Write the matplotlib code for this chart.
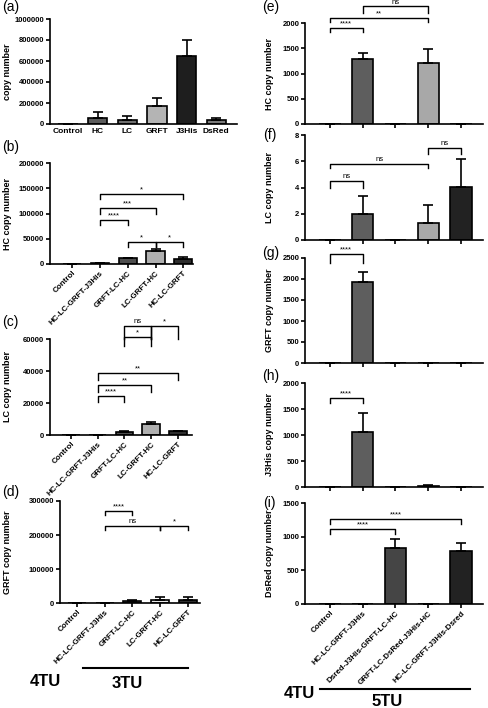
import matplotlib
matplotlib.use("Agg")
import matplotlib.pyplot as plt
from matplotlib.ticker import FuncFormatter

plt.rcParams["font.family"] = ["Liberation Sans", "DejaVu Sans"]
plt.rcParams["axes.linewidth"] = 1.2

W, H = 488, 708

# ---- data ----
a_cats = ["Control", "HC", "LC", "GRFT", "J3His", "DsRed"]
a_vals = [0, 60000, 35000, 175000, 645000, 40000]
a_err = [0, 55000, 40000, 70000, 155000, 18000]
a_cols = ["#ffffff", "#5c5c5c", "#6e6e6e", "#b4b4b4", "#1e1e1e", "#7a7a7a"]

tu3_cats = ["Control", "HC-LC-GRFT-J3His", "GRFT-LC-HC", "LC-GRFT-HC", "HC-LC-GRFT"]
tu3_cols = ["#ffffff", "#8a8a8a", "#4e4e4e", "#b0b0b0", "#2e2e2e"]
b_vals = [0, 1000, 11000, 25000, 10000]
b_err = [0, 300, 1500, 4000, 3000]
c_vals = [0, 0, 2000, 7000, 2200]
c_err = [0, 0, 500, 1200, 600]
d_vals = [0, 1000, 5000, 8000, 8000]
d_err = [0, 300, 3000, 10000, 9000]

tu5_cats = ["Control", "HC-LC-GRFT-J3His", "Dsred-J3His-GRFT-LC-HC",
            "GRFT-LC-DsRed-J3His-HC", "HC-LC-GRFT-J3His-Dsred"]
tu5_cols = ["#ffffff", "#5e5e5e", "#454545", "#a8a8a8", "#222222"]
e_vals = [5, 1280, 0, 1200, 0]
e_err = [0, 120, 0, 290, 0]
f_vals = [0, 2.0, 0, 1.3, 4.05]
f_err = [0, 1.35, 0, 1.35, 2.1]
g_vals = [0, 1920, 0, 0, 0]
g_err = [0, 240, 0, 0, 0]
h_vals = [0, 1050, 0, 20, 0]
h_err = [0, 380, 0, 10, 0]
i_vals = [0, 0, 830, 0, 780]
i_err = [0, 0, 140, 0, 130]

# significance brackets: (from, to, top, leg end, label)
b_sig = [(1, 4, 138000, 128000, "*"), (1, 3, 110000, 100000, "***"),
         (1, 2, 87000, 77000, "****"), (2, 3, 43500, 33000, "*"), (3, 4, 43500, 33000, "*")]
c_sig = [(2, 3, 68000, 60000, "ns"), (3, 4, 68000, 60000, "*"), (2, 3, 61000, 55500, "*"),
         (1, 4, 38750, 34400, "**"), (1, 3, 31250, 27000, "**"), (1, 2, 24400, 20600, "****")]
d_sig = [(1, 2, 270000, 259000, "****"), (1, 3, 226000, 214000, "ns"), (3, 4, 226000, 214000, "*")]
e_sig = [(0, 1, 1900, 1820, "****"), (0, 3, 2100, 2020, "**"), (1, 3, 2330, 2200, "ns")]
f_sig = [(3, 4, 7.0, 6.55, "ns"), (0, 3, 5.78, 5.45, "ns"), (0, 1, 4.5, 3.95, "ns")]
g_sig = [(0, 1, 2600, 2380, "****")]
h_sig = [(0, 1, 1711, 1615, "****")]
i_sig = [(0, 4, 1265, 1190, "****"), (0, 2, 1116, 1040, "****")]

fig = plt.figure(figsize=(W / 100, H / 100), dpi=100)


def px_axes(l, r, t, b):
    return fig.add_axes([l / W, 1 - b / H, (r - l) / W, (b - t) / H])


def panel(ax, vals, err, cols, ymax, ystep, ylabel, xlim, lab_x, sig=(), cats=None, rot=45):
    n = len(vals)
    xs = list(range(n))
    ax.bar(xs, vals, width=0.65, color=cols, edgecolor="black", linewidth=1.2, zorder=2)
    ax.errorbar(xs, vals, yerr=[[0] * n, err], fmt="none", ecolor="black",
                elinewidth=1.2, capsize=3.5, capthick=1.2, zorder=3)
    ax.set_xlim(*xlim)
    ax.set_ylim(0, ymax)
    ax.set_yticks([k * ystep for k in range(int(round(ymax / ystep)) + 1)])
    ax.yaxis.set_major_formatter(FuncFormatter(lambda v, p: f"{v:g}" if v < 1e5 else f"{int(v)}"))
    for s in ["top", "right"]:
        ax.spines[s].set_visible(False)
    ax.tick_params(axis="y", direction="out", length=3, width=1.2, labelsize=5.5, pad=1)
    ax.tick_params(axis="x", direction="out", length=3, width=1.2, labelsize=5.8, pad=1)
    ax.set_xticks(xs)
    if cats is None:
        ax.set_xticklabels([])
    elif rot:
        ax.set_xticklabels(cats, rotation=45, ha="right", rotation_mode="anchor", fontweight="bold")
    else:
        ax.set_xticklabels(cats, fontweight="bold", fontsize=6)
        ax.tick_params(axis="x", length=0, pad=3)
    for t in ax.get_yticklabels():
        t.set_fontweight("bold")
    ax.set_ylabel(ylabel, fontsize=6.5, fontweight="bold")
    ax.yaxis.set_label_coords(lab_x, 0.5)
    for x1, x2, yt, yl, txt in sig:
        ax.plot([x1, x1, x2, x2], [yl, yt, yt, yl], color="black", lw=1.0, clip_on=False, zorder=4)
        ax.text((x1 + x2) / 2, yt + ymax * 0.008, txt, ha="center", va="bottom",
                fontsize=5.5, clip_on=False)


def frac(px, l, r):
    return (px - l) / (r - l)


# left column
ax = px_axes(50, 237, 19, 124)
panel(ax, a_vals, a_err, a_cols, 1000000, 200000, "copy number", (-0.61, 5.7),
      frac(12, 50, 237), cats=a_cats, rot=0)
ax = px_axes(50, 193, 163, 264)
panel(ax, b_vals, b_err, tu3_cols, 200000, 50000, "HC copy number", (-0.8, 4.35),
      frac(12, 50, 193), b_sig, tu3_cats)
ax = px_axes(50, 192, 339, 435)
panel(ax, c_vals, c_err, tu3_cols, 60000, 20000, "LC copy number", (-0.79, 4.53),
      frac(12, 50, 192), c_sig, tu3_cats)
ax = px_axes(60, 200, 501, 603)
panel(ax, d_vals, d_err, tu3_cols[:3] + ["#e8e8e8", "#2e2e2e"], 300000, 100000, "GRFT copy number",
      (-0.61, 4.44), frac(12, 60, 200), d_sig, tu3_cats)

# right column
R = (305, 483)
ax = px_axes(*R, 23, 124)
panel(ax, e_vals, e_err, tu5_cols, 2000, 500, "HC copy number", (-0.76, 4.67), frac(274, *R), e_sig)
ax = px_axes(*R, 135, 240)
panel(ax, f_vals, f_err, tu5_cols, 8, 2, "LC copy number", (-0.76, 4.67), frac(274, *R), f_sig)
ax = px_axes(*R, 258, 363)
panel(ax, g_vals, g_err, tu5_cols, 2500, 500, "GRFT copy number", (-0.76, 4.67), frac(274, *R), g_sig)
ax = px_axes(*R, 383, 487)
panel(ax, h_vals, h_err, tu5_cols, 2000, 500, "J3His copy number", (-0.76, 4.67), frac(274, *R), h_sig)
ax = px_axes(*R, 503, 604)
panel(ax, i_vals, i_err, tu5_cols, 1500, 500, "DsRed copy number", (-0.76, 4.67), frac(274, *R),
      i_sig, tu5_cats)

# panel letters
for lab, x, y in [("(a)", 2, 7), ("(b)", 2, 147), ("(c)", 2, 322), ("(d)", 2, 492),
                  ("(e)", 262, 7), ("(f)", 263, 135), ("(g)", 262, 253), ("(h)", 262, 376),
                  ("(i)", 263, 503)]:
    fig.text(x / W, 1 - y / H, lab, fontsize=10, ha="left", va="center")

# TU group markers
fig.add_artist(plt.Line2D([83 / W, 188 / W], [1 - 668 / H] * 2, color="black", lw=1.5))
fig.add_artist(plt.Line2D([320 / W, 470 / W], [1 - 689 / H] * 2, color="black", lw=1.5))
for lab, x, y in [("4TU", 45, 682), ("3TU", 127, 684), ("4TU", 299, 693), ("5TU", 387, 701)]:
    fig.text(x / W, 1 - y / H, lab, fontsize=12, fontweight="bold", ha="center", va="center")

fig.savefig("out.png", dpi=100)
